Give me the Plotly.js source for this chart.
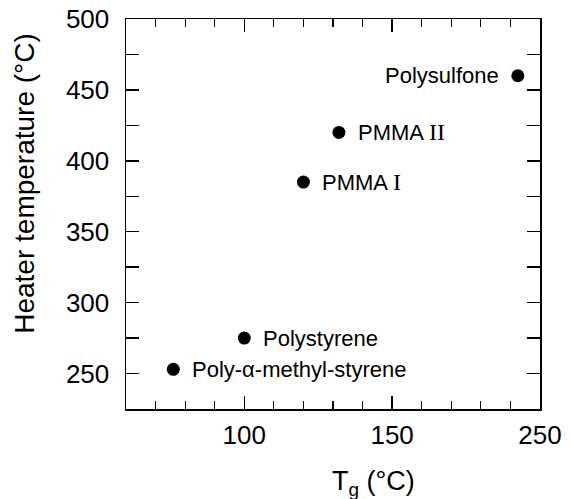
<!DOCTYPE html>
<html>
<head>
<meta charset="utf-8">
<script src="https://cdn.plot.ly/plotly-3.0.1.min.js"></script>
<style>
  html, body { margin: 0; padding: 0; background: #fff; }
  #chart { width: 571px; height: 499px; }
</style>
</head>
<body>
<div id="chart"></div>
<script>
// Glass transition temperature vs. heater temperature for each polymer
const polymers = ["Polysulfone", "PMMA II", "PMMA I", "Polystyrene", "Poly-α-methyl-styrene"];
const tg = [192.5, 132, 120, 100, 76];
const heaterTemp = [460, 420, 385, 275, 253];
const labelSide = ["left", "right", "right", "right", "right"];
const labelHtml = [
  "Polysulfone",
  "PMMA <span style='font-family:Liberation Serif;font-size:24px'>II</span>",
  "PMMA <span style='font-family:Liberation Serif;font-size:24px'>I</span>",
  "Polystyrene",
  "Poly-α-methyl-styrene"
];

const xTickVals = [100, 150, 200];
const xTickText = ["100", "150", "250"];

const font = "Liberation Sans, Arial, Helvetica, sans-serif";

const annotations = polymers.map((name, i) => ({
  x: tg[i], y: heaterTemp[i], xref: "x", yref: "y",
  text: labelHtml[i], showarrow: false,
  xanchor: labelSide[i] === "left" ? "right" : "left",
  yanchor: "middle",
  xshift: labelSide[i] === "left" ? -17 : 17,
  font: { family: font, size: 22, color: "#000" }
}));

// axis titles placed as annotations
annotations.push({
  x: 0.597, y: -0.19, xref: "paper", yref: "paper",
  text: "T<sub>g</sub> (°C)", showarrow: false,
  xanchor: "center", yanchor: "middle",
  font: { family: font, size: 27, color: "#000" }
});
annotations.push({
  x: -0.244, y: 0.58, xref: "paper", yref: "paper",
  text: "Heater temperature (°C)", showarrow: false, textangle: -90,
  xanchor: "center", yanchor: "middle",
  font: { family: font, size: 28, color: "#000" }
});

const trace = {
  x: tg, y: heaterTemp, text: polymers,
  type: "scatter", mode: "markers",
  marker: { color: "#000", size: 13 },
  hoverinfo: "text+x+y"
};

const layout = {
  width: 571, height: 499,
  margin: { l: 126, r: 31, t: 19, b: 90 },
  paper_bgcolor: "#fff", plot_bgcolor: "#fff",
  showlegend: false,
  font: { family: font, color: "#000" },
  xaxis: {
    range: [60, 200],
    tickmode: "array", tickvals: xTickVals, ticktext: xTickText,
    ticks: "inside", ticklen: 13, tickwidth: 1.5, tickcolor: "#000",
    minor: { tickmode: "linear", tick0: 0, dtick: 10, ticks: "inside", ticklen: 8, tickwidth: 1.2, tickcolor: "#000" },
    showline: true, linecolor: "#000", linewidth: 1.5, mirror: "ticks",
    showgrid: false, zeroline: false,
    ticklabelstandoff: 2,
    tickfont: { family: font, size: 26, color: "#000" }
  },
  yaxis: {
    range: [225, 500],
    tick0: 0, dtick: 50,
    ticks: "inside", ticklen: 13, tickwidth: 1.5, tickcolor: "#000",
    minor: { tick0: 0, dtick: 25, ticks: "inside", ticklen: 13, tickwidth: 1.5, tickcolor: "#000" },
    showline: true, linecolor: "#000", linewidth: 1.5, mirror: "ticks",
    showgrid: false, zeroline: false,
    ticklabelstandoff: 10,
    tickfont: { family: font, size: 26, color: "#000" }
  },
  annotations: annotations
};

Plotly.newPlot("chart", [trace], layout, { displayModeBar: false, staticPlot: true });
</script>
</body>
</html>
